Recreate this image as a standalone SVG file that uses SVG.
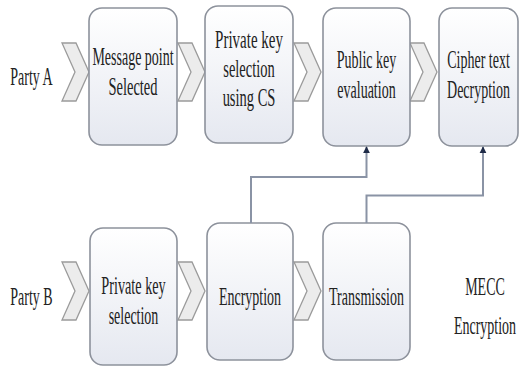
<svg xmlns="http://www.w3.org/2000/svg" width="525" height="367" viewBox="0 0 525 367">
  <style>
    .box { fill: url(#boxFill); stroke: #8d929c; stroke-width: 1.6; }
    .chev { fill: #ececec; stroke: #9b9b9b; stroke-width: 1.3; stroke-linejoin: miter; }
    .lbl { font-family: "Liberation Serif", "Times New Roman", serif; font-size: 25px; fill: #222; text-anchor: middle; }
    .conn { fill: none; stroke: #8a93a5; stroke-width: 2; }
  </style>
  <defs>
    <linearGradient id="boxFill" x1="0" y1="0" x2="0" y2="1">
      <stop offset="0" stop-color="#ffffff"/>
      <stop offset="1" stop-color="#e5e8f0"/>
    </linearGradient>
    <polygon id="chevron" class="chev" points="0,0 14,0 27,29 14,58 0,58 13,29"/>
    <marker id="arrow" viewBox="0 0 10 10" refX="9" refY="5" markerWidth="7" markerHeight="8" markerUnits="userSpaceOnUse" orient="auto">
      <path d="M0,0 L10,5 L0,10 Z" fill="#1f2b48"/>
    </marker>
  </defs>

  <!-- row labels (condensed serif: each text is squeezed horizontally) -->
  <g id="party-a"><text class="lbl" transform="translate(31.5 85) scale(0.56 1)">Party A</text></g>
  <g id="party-b"><text class="lbl" transform="translate(31.5 305) scale(0.56 1)">Party B</text></g>

  <!-- step chevrons -->
  <g id="chevrons">
    <use href="#chevron" x="62" y="43"/>
    <use href="#chevron" x="178" y="43"/>
    <use href="#chevron" x="294" y="43"/>
    <use href="#chevron" x="410" y="43"/>
    <use href="#chevron" x="62" y="262"/>
    <use href="#chevron" x="178" y="262"/>
    <use href="#chevron" x="294" y="262"/>
  </g>

  <!-- Party A steps -->
  <g id="message-point">
    <rect class="box" x="89" y="8" width="88" height="137" rx="13"/>
    <text class="lbl" transform="translate(133 65) scale(0.56 1)">Message point</text>
    <text class="lbl" transform="translate(133 95) scale(0.58 1)">Selected</text>
  </g>
  <g id="private-key-cs">
    <rect class="box" x="205" y="6" width="88" height="137" rx="13"/>
    <text class="lbl" transform="translate(249 48) scale(0.6 1)">Private key</text>
    <text class="lbl" transform="translate(249 77) scale(0.58 1)">selection</text>
    <text class="lbl" transform="translate(249 106) scale(0.58 1)">using CS</text>
  </g>
  <g id="public-key">
    <rect class="box" x="323" y="8" width="87" height="138" rx="13"/>
    <text class="lbl" transform="translate(366.5 68) scale(0.56 1)">Public key</text>
    <text class="lbl" transform="translate(366.5 98) scale(0.56 1)">evaluation</text>
  </g>
  <g id="decryption">
    <rect class="box" x="439" y="8" width="79" height="138" rx="13"/>
    <text class="lbl" transform="translate(478.5 68) scale(0.56 1)">Cipher text</text>
    <text class="lbl" transform="translate(478.5 98) scale(0.56 1)">Decryption</text>
  </g>

  <!-- Party B steps -->
  <g id="private-key">
    <rect class="box" x="90" y="228" width="87" height="137" rx="13"/>
    <text class="lbl" transform="translate(133.5 294) scale(0.57 1)">Private key</text>
    <text class="lbl" transform="translate(133.5 324) scale(0.56 1)">selection</text>
  </g>
  <g id="encryption">
    <rect class="box" x="207" y="223" width="86" height="137" rx="13"/>
    <text class="lbl" transform="translate(250 305) scale(0.56 1)">Encryption</text>
  </g>
  <g id="transmission">
    <rect class="box" x="323" y="223" width="87" height="137" rx="13"/>
    <text class="lbl" transform="translate(366.5 305) scale(0.56 1)">Transmission</text>
  </g>

  <!-- caption -->
  <g id="mecc">
    <text class="lbl" transform="translate(485 295) scale(0.56 1)">MECC</text>
    <text class="lbl" transform="translate(485 334) scale(0.56 1)">Encryption</text>
  </g>

  <!-- links between rows -->
  <g id="connectors">
    <path class="conn" d="M251,223 V177 H366.5 V147" marker-end="url(#arrow)"/>
    <path class="conn" d="M366.5,223 V195.5 H483 V147" marker-end="url(#arrow)"/>
  </g>
</svg>
